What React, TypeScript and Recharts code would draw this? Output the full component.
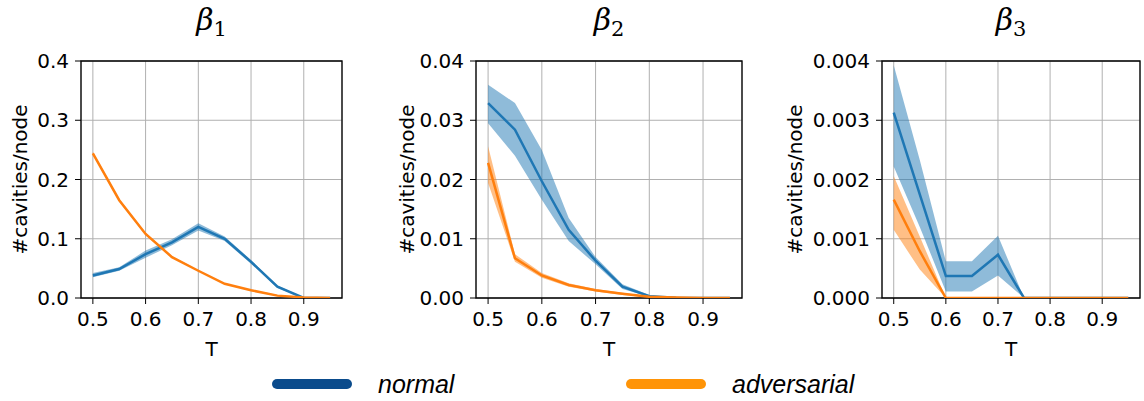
import React from 'react';
import { ComposedChart, Line, Area, XAxis, YAxis, CartesianGrid, ReferenceArea, Label } from 'recharts';

const T = [0.5, 0.55, 0.6, 0.65, 0.7, 0.75, 0.8, 0.85, 0.9, 0.95];
const xTicks = [0.5, 0.6, 0.7, 0.8, 0.9];

// beta_1
const b1Normal = [0.038, 0.049, 0.074, 0.094, 0.12, 0.1, 0.061, 0.019, 0.0, 0.0];
const b1NormalLo = [0.035, 0.046, 0.068, 0.089, 0.114, 0.096, 0.058, 0.017, 0.0, 0.0];
const b1NormalHi = [0.042, 0.052, 0.08, 0.099, 0.126, 0.104, 0.064, 0.021, 0.001, 0.0];
const b1Adv = [0.244, 0.165, 0.108, 0.069, 0.046, 0.024, 0.013, 0.004, 0.001, 0.0];
const b1AdvLo = [0.242, 0.163, 0.106, 0.068, 0.045, 0.023, 0.012, 0.003, 0.0005, 0.0];
const b1AdvHi = [0.247, 0.167, 0.11, 0.071, 0.047, 0.025, 0.014, 0.005, 0.0015, 0.0003];

// beta_2
const b2Normal = [0.0329, 0.0284, 0.0197, 0.0115, 0.0063, 0.0019, 0.0003, 0.00005, 0.0, 0.0];
const b2NormalLo = [0.0295, 0.024, 0.0166, 0.0096, 0.0057, 0.0015, 0.0002, 0.0, 0.0, 0.0];
const b2NormalHi = [0.036, 0.0329, 0.025, 0.0135, 0.0069, 0.0023, 0.0005, 0.0001, 0.0, 0.0];
const b2Adv = [0.0228, 0.0067, 0.0038, 0.0022, 0.0013, 0.0007, 0.0002, 0.0001, 0.0, 0.0];
const b2AdvLo = [0.0194, 0.0061, 0.0034, 0.0019, 0.0011, 0.0005, 0.0001, 0.0, 0.0, 0.0];
const b2AdvHi = [0.0256, 0.0074, 0.0042, 0.0025, 0.0015, 0.0009, 0.0003, 0.0001, 0.0, 0.0];

// beta_3
const b3Normal = [0.00313, 0.00175, 0.00037, 0.00037, 0.00073, 0.0, 0.0, 0.0, 0.0, 0.0];
const b3NormalLo = [0.00222, 0.0012, 0.00011, 0.00011, 0.00038, 0.0, 0.0, 0.0, 0.0, 0.0];
const b3NormalHi = [0.00393, 0.00233, 0.00062, 0.00062, 0.00105, 0.0, 0.0, 0.0, 0.0, 0.0];
const b3Adv = [0.00166, 0.00079, 0.0, 0.0, 0.0, 0.0, 0.0, 0.0, 0.0, 0.0];
const b3AdvLo = [0.00115, 0.00048, 0.0, 0.0, 0.0, 0.0, 0.0, 0.0, 0.0, 0.0];
const b3AdvHi = [0.00206, 0.00104, 0.0, 0.0, 0.0, 0.0, 0.0, 0.0, 0.0, 0.0];

const BLUE = '#1f77b4';
const ORANGE = '#ff7f0e';
const FONT = 'DejaVu Sans';

const build = (n: number[], nLo: number[], nHi: number[], a: number[], aLo: number[], aHi: number[]) =>
  T.map((t, i) => ({ t, n: n[i], nBand: [nLo[i], nHi[i]], a: a[i], aBand: [aLo[i], aHi[i]] }));

type PanelProps = {
  left: number;
  width: number;
  mLeft: number;
  mRight: number;
  yMax: number;
  digits: number;
  yLabelGap: number;
  sub: string;
  data: any[];
};

const Panel: React.FC<PanelProps> = ({ left, width, mLeft, mRight, yMax, digits, yLabelGap, sub, data }) => {
  const yTicks = [0, 1, 2, 3, 4].map((k) => (k * yMax) / 4);
  const plotLeft = mLeft + 60;
  const plotCenter = plotLeft + (width - mRight - plotLeft) / 2;
  return (
    <div style={{ position: 'absolute', left, top: 0, width, height: 401 }}>
      <div
        style={{
          position: 'absolute',
          left: plotCenter - 40,
          width: 80,
          top: 2,
          textAlign: 'center',
          fontFamily: 'DejaVu Serif',
          fontSize: 30,
          color: '#000',
        }}
      >
        <span style={{ fontStyle: 'italic' }}>β</span>
        <span style={{ fontSize: 21, verticalAlign: '-6px' }}>{sub}</span>
      </div>
      <ComposedChart width={width} height={401} data={data} margin={{ top: 61, right: mRight, bottom: 73, left: mLeft }}>
        <CartesianGrid stroke="#b0b0b0" strokeWidth={1} />
        <XAxis
          dataKey="t"
          type="number"
          domain={[0.4775, 0.9725]}
          ticks={xTicks}
          allowDataOverflow
          height={30}
          axisLine={false}
          tickSize={6}
          tickMargin={8}
          tickLine={{ stroke: '#000' }}
          tick={{ fill: '#000', fontSize: 20, fontFamily: FONT }}
          tickFormatter={(v: number) => v.toFixed(1)}
        >
          <Label
            content={(p: any) => (
              <text
                x={p.viewBox.x + p.viewBox.width / 2}
                y={356}
                textAnchor="middle"
                fontSize={20}
                fontFamily={FONT}
                fill="#000"
              >
                T
              </text>
            )}
          />
        </XAxis>
        <YAxis
          type="number"
          domain={[0, yMax]}
          ticks={yTicks}
          allowDataOverflow
          width={60}
          axisLine={false}
          tickSize={6}
          tickMargin={6}
          tickLine={{ stroke: '#000' }}
          tick={{ fill: '#000', fontSize: 20, fontFamily: FONT }}
          tickFormatter={(v: number) => v.toFixed(digits)}
        >
          <Label
            content={(p: any) => {
              const cx = plotLeft - yLabelGap;
              const cy = p.viewBox.y + p.viewBox.height / 2;
              return (
                <text
                  x={cx}
                  y={cy}
                  transform={`rotate(-90, ${cx}, ${cy})`}
                  textAnchor="middle"
                  dominantBaseline="central"
                  fontSize={20}
                  fontFamily={FONT}
                  fill="#000"
                >
                  #cavities/node
                </text>
              );
            }}
          />
        </YAxis>
        <Area type="linear" dataKey="nBand" stroke="none" fill={BLUE} fillOpacity={0.5} isAnimationActive={false} activeDot={false} />
        <Line type="linear" dataKey="n" stroke={BLUE} strokeWidth={2.5} dot={false} activeDot={false} isAnimationActive={false} />
        <Area type="linear" dataKey="aBand" stroke="none" fill={ORANGE} fillOpacity={0.5} isAnimationActive={false} activeDot={false} />
        <Line type="linear" dataKey="a" stroke={ORANGE} strokeWidth={2.5} dot={false} activeDot={false} isAnimationActive={false} />
        <ReferenceArea x1={0.4775} x2={0.9725} y1={0} y2={yMax} fill="none" stroke="#000" strokeWidth={1.3} ifOverflow="visible" />
      </ComposedChart>
    </div>
  );
};

const LegendItem: React.FC<{ color: string; label: string; left: number }> = ({ color, label, left }) => (
  <div style={{ position: 'absolute', left, top: 366, display: 'flex', alignItems: 'center', height: 36 }}>
    <div style={{ width: 80, height: 10, borderRadius: 5, background: color }} />
    <span
      style={{
        marginLeft: 26,
        fontFamily: 'Liberation Sans',
        fontStyle: 'italic',
        fontSize: 25,
        color: '#000',
      }}
    >
      {label}
    </span>
  </div>
);

export default function App() {
  const d1 = build(b1Normal, b1NormalLo, b1NormalHi, b1Adv, b1AdvLo, b1AdvHi);
  const d2 = build(b2Normal, b2NormalLo, b2NormalHi, b2Adv, b2AdvLo, b2AdvHi);
  const d3 = build(b3Normal, b3NormalLo, b3NormalHi, b3Adv, b3AdvLo, b3AdvHi);
  return (
    <div style={{ position: 'absolute', left: 0, top: 0, width: 1144, height: 401, background: '#fff', overflow: 'hidden' }}>
      <Panel left={0} width={380} mLeft={21} mRight={38} yMax={0.4} digits={1} yLabelGap={61} sub="1" data={d1} />
      <Panel left={380} width={380} mLeft={36} mRight={18} yMax={0.04} digits={2} yLabelGap={69} sub="2" data={d2} />
      <Panel left={760} width={384} mLeft={62} mRight={4} yMax={0.004} digits={3} yLabelGap={87} sub="3" data={d3} />
      <LegendItem color="#0a4b8c" label="normal" left={272} />
      <LegendItem color="#ff9407" label="adversarial" left={626} />
    </div>
  );
}
